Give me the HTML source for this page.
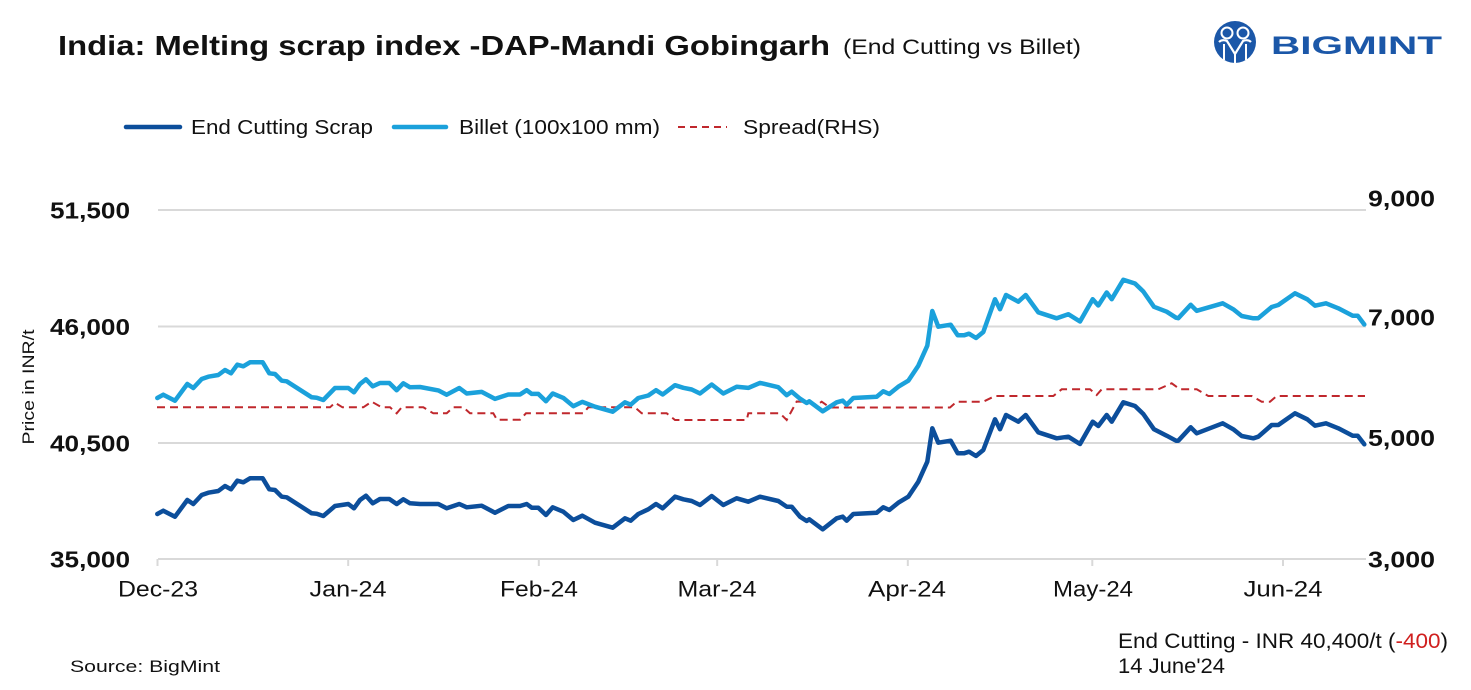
<!DOCTYPE html>
<html>
<head>
<meta charset="utf-8">
<style>
  html, body { margin: 0; padding: 0; background: #ffffff; }
  body { width: 1471px; height: 690px; overflow: hidden; }
  svg { display: block; }
  text { font-family: "Liberation Sans", Arial, sans-serif; fill: #111; }
</style>
</head>
<body>
<svg width="1471" height="690" viewBox="0 0 1471 690" xmlns="http://www.w3.org/2000/svg">
  <rect x="0" y="0" width="1471" height="690" fill="#ffffff"/>

  <!-- Title -->
  <text x="58" y="55" font-size="28" font-weight="bold" textLength="772" lengthAdjust="spacingAndGlyphs">India: Melting scrap index -DAP-Mandi Gobingarh</text>
  <text x="843" y="54" font-size="21" textLength="238" lengthAdjust="spacingAndGlyphs">(End Cutting vs Billet)</text>

  <!-- Logo -->
  <g>
    <circle cx="1235" cy="42" r="21" fill="#1b57a8"/>
    <circle cx="1227" cy="33" r="5.5" fill="#1b57a8" stroke="#ffffff" stroke-width="2"/>
    <circle cx="1243" cy="33" r="5.5" fill="#1b57a8" stroke="#ffffff" stroke-width="2"/>
    <path d="M1219,42 Q1222,39 1227,41 L1235,54 L1243,41 Q1248,39 1251,42" fill="none" stroke="#ffffff" stroke-width="2.2"/>
    <path d="M1224,44 L1224,60 M1246,44 L1246,60 M1235,54 L1235,64" fill="none" stroke="#ffffff" stroke-width="2"/>
    <text x="1271" y="54" font-size="25" font-weight="bold" fill="#1b57a8" style="fill:#1b57a8" textLength="171" lengthAdjust="spacingAndGlyphs">BIGMINT</text>
  </g>

  <!-- Legend -->
  <line x1="126" y1="127" x2="180" y2="127" stroke="#0c4e9b" stroke-width="4.5" stroke-linecap="round"/>
  <text x="191" y="134" font-size="20.5" textLength="182" lengthAdjust="spacingAndGlyphs">End Cutting Scrap</text>
  <line x1="394" y1="127" x2="446" y2="127" stroke="#1ba1db" stroke-width="4.5" stroke-linecap="round"/>
  <text x="459" y="134" font-size="20.5" textLength="201" lengthAdjust="spacingAndGlyphs">Billet (100x100 mm)</text>
  <line x1="678" y1="127" x2="727" y2="127" stroke="#c0282d" stroke-width="2" stroke-dasharray="7,5"/>
  <text x="743" y="134" font-size="20.5" textLength="137" lengthAdjust="spacingAndGlyphs">Spread(RHS)</text>

  <!-- Gridlines -->
  <g stroke="#d9d9d9" stroke-width="2">
    <line x1="158" y1="210" x2="1366" y2="210"/>
    <line x1="158" y1="326.5" x2="1366" y2="326.5"/>
    <line x1="158" y1="443" x2="1366" y2="443"/>
    <line x1="158" y1="559" x2="1366" y2="559"/>
  </g>
  <!-- X ticks -->
  <g stroke="#d9d9d9" stroke-width="2">
    <line x1="157.5" y1="559" x2="157.5" y2="566"/>
    <line x1="348.2" y1="559" x2="348.2" y2="566"/>
    <line x1="538.8" y1="559" x2="538.8" y2="566"/>
    <line x1="717.2" y1="559" x2="717.2" y2="566"/>
    <line x1="907.8" y1="559" x2="907.8" y2="566"/>
    <line x1="1092.3" y1="559" x2="1092.3" y2="566"/>
    <line x1="1283" y1="559" x2="1283" y2="566"/>
  </g>

  <!-- Left axis labels -->
  <g font-size="23" font-weight="bold" text-anchor="end">
    <text x="130" y="218.5" text-anchor="end" textLength="80" lengthAdjust="spacingAndGlyphs">51,500</text>
    <text x="130" y="335" text-anchor="end" textLength="80" lengthAdjust="spacingAndGlyphs">46,000</text>
    <text x="130" y="451.5" text-anchor="end" textLength="80" lengthAdjust="spacingAndGlyphs">40,500</text>
    <text x="130" y="567.5" text-anchor="end" textLength="80" lengthAdjust="spacingAndGlyphs">35,000</text>
  </g>

  <!-- Right axis labels -->
  <g font-size="23" font-weight="bold">
    <text x="1368" y="206.5" textLength="67" lengthAdjust="spacingAndGlyphs">9,000</text>
    <text x="1368" y="325.5" textLength="67" lengthAdjust="spacingAndGlyphs">7,000</text>
    <text x="1368" y="446" textLength="67" lengthAdjust="spacingAndGlyphs">5,000</text>
    <text x="1368" y="567.5" textLength="67" lengthAdjust="spacingAndGlyphs">3,000</text>
  </g>

  <!-- Y axis title -->
  <text transform="translate(34,387) rotate(-90)" x="0" y="0" font-size="17" text-anchor="middle" textLength="115" lengthAdjust="spacingAndGlyphs">Price in INR/t</text>

  <!-- X axis labels -->
  <g font-size="22" text-anchor="middle">
    <text x="158" y="596.5" text-anchor="middle" textLength="80" lengthAdjust="spacingAndGlyphs">Dec-23</text>
    <text x="348" y="596.5" text-anchor="middle" textLength="77" lengthAdjust="spacingAndGlyphs">Jan-24</text>
    <text x="539" y="596.5" text-anchor="middle" textLength="78" lengthAdjust="spacingAndGlyphs">Feb-24</text>
    <text x="717" y="596.5" text-anchor="middle" textLength="79" lengthAdjust="spacingAndGlyphs">Mar-24</text>
    <text x="907" y="596.5" text-anchor="middle" textLength="78" lengthAdjust="spacingAndGlyphs">Apr-24</text>
    <text x="1093" y="596.5" text-anchor="middle" textLength="80" lengthAdjust="spacingAndGlyphs">May-24</text>
    <text x="1283" y="596.5" text-anchor="middle" textLength="79" lengthAdjust="spacingAndGlyphs">Jun-24</text>
  </g>

  <!-- Spread (RHS) dashed -->
  <polyline fill="none" stroke="#c0282d" stroke-width="2" stroke-dasharray="8,5"
    points="157,407.3 330,407.3 335,402.7 342.5,407.3 363.3,407.3 371.7,401.7 381.7,407.3 390,407.3 396.7,413.3 401.7,407.3 423.3,407.3 433.3,413.3 446.7,413.3 453.3,407.3 463.3,407.3 470,413.3 493.3,413.3 497,419.7 520,419.7 526,413.3 583.3,413.3 588.3,407.3 635,407.3 641.7,413.3 666.7,413.3 675,420 746.7,420 748.3,413.3 780,413.3 786.7,420 796.7,401.5 810,402 816.7,405 821.7,401.7 830,407.5 950,407.5 956.7,401.7 983.3,401.7 995,396 1053.3,396 1061.7,389.3 1090,389.3 1096.7,395 1101.7,389.3 1158.3,389.3 1171.7,383.3 1180,389.3 1196.7,389.3 1208.3,396 1251.7,396 1261.7,401.7 1270,401.7 1276.7,396 1365,396"/>

  <!-- Billet -->
  <polyline fill="none" stroke="#1ba1db" stroke-width="4.5" stroke-linejoin="round" stroke-linecap="round"
    points="157.3,398 163.3,394.7 175,400.7 187.3,384 193.3,388 201.7,379 208.3,376.7 218.3,375 225,370 231,373.3 237.3,364.7 243.3,366.3 250,362.3 262.7,362.3 269.3,373.3 275,374 281.7,380.7 286.7,381.3 311.7,397.3 316.7,397.7 323.3,400 335,388 348.3,388 354,392.3 360,384 366,379.3 372.7,386.3 380,383 389.3,383 396.7,390.2 403.3,383.3 410,387.3 420,387 438.3,390.4 446.7,394.7 459.3,388 466.7,393.5 481.7,391.9 495,398.9 508.3,394.5 520,394.5 526.7,390.2 531.7,393.9 538.3,393.9 546,401.2 552.7,393.5 563.3,397.9 573.3,406.2 582.3,401.9 595,406.7 612.7,411.7 625,402.3 630.7,404.7 638.3,398 648.3,395.5 656,390.2 662.7,394.5 675,385.2 683.3,387.8 691.7,389.5 700,393.5 711.7,384.5 723.3,393.5 736.7,386.8 748.3,387.9 760,382.9 778.3,387.2 786.7,395.2 791.7,391.7 800,398.7 806.7,403 809.3,401.3 822.7,411.3 836.7,402.3 842.7,400.7 846.7,404.7 853.3,398 876.7,396.7 883.3,391.3 889.3,394 898.3,386.7 908.3,380.7 918.3,365.7 927.3,345.7 932.3,311 938.3,326.7 950.7,324.7 957.7,335.3 964,335.3 969,333.7 976,338 983.3,332 995,299.3 1000,309.3 1006,295 1018.3,301.7 1025.7,295 1038.3,312.3 1056.7,318.3 1068.3,314.2 1080,321.5 1092.7,299.2 1098.3,305.5 1106.7,292.5 1111.7,299.2 1123.3,279.8 1135,283.5 1143.3,291.5 1154,306.8 1166.7,311.7 1176,317.7 1178.3,318.2 1190.7,304.8 1196.7,310.8 1222.7,303.3 1233.3,309.3 1241.7,316 1253.3,318.3 1258.3,318.2 1271.7,307 1278.3,305 1295,293.3 1307.3,299.3 1315,305.7 1326,303.3 1338.3,308.3 1352.7,315.7 1357.7,315.7 1364.3,324.5"/>

  <!-- End Cutting Scrap -->
  <polyline fill="none" stroke="#0c4e9b" stroke-width="4.5" stroke-linejoin="round" stroke-linecap="round"
    points="157.3,514 163.3,510.7 175,516.7 187.3,500 193.3,504 201.7,495 208.3,492.7 218.3,491 225,486 231,489.3 237.3,480.7 243.3,482.3 250,478.3 262.7,478.3 269.3,489.3 275,490 281.7,496.7 286.7,497.3 311.7,513.3 316.7,513.7 323.3,516 335,506 348.3,504 354,508.3 360,500 366,495.7 372.7,503.3 380,499 389.3,499 396.7,504 403.3,499.3 410,503.3 420,504 438.3,504 446.7,508.3 459.3,504 466.7,507.3 481.7,505.7 495,512.7 508.3,506 520,506 526.7,504 531.7,507.7 538.3,507.7 546,515 552.7,507.3 563.3,511.7 573.3,520 582.3,515.7 595,522.7 612.7,527.7 625,518.3 630.7,520.7 638.3,514 648.3,509.3 656,504 662.7,508.3 675,496.7 683.3,499.3 691.7,501 700,505 711.7,496 723.3,505 736.7,498.3 748.3,501.7 760,496.7 778.3,501 786.7,506.7 791.7,506.7 800,516.7 806.7,521 809.3,519.3 822.7,529.3 836.7,518.3 842.7,516.7 846.7,520.7 853.3,514 876.7,512.7 883.3,507.3 889.3,510 898.3,502.7 908.3,496.7 918.3,481.7 927.3,461.7 932.3,428.3 938.3,442.7 950.7,440.7 957.7,453.3 964,453.3 969,451.7 976,456 983.3,450 995,419.3 1000,429.3 1006,415 1018.3,421.7 1025.7,415 1038.3,432.3 1056.7,438.3 1068.3,436.7 1080,444 1092.7,421.7 1098.3,426 1106.7,415 1111.7,421.7 1123.3,402.3 1135,406 1143.3,414 1154,429.3 1166.7,435.7 1176,440.7 1178.3,440.7 1190.7,427.3 1196.7,433.3 1222.7,423.3 1233.3,429.3 1241.7,436 1253.3,438.3 1258.3,436.7 1271.7,425 1278.3,425 1295,413.3 1307.3,419.3 1315,425.7 1326,423.3 1338.3,428.3 1352.7,435.7 1357.7,435.7 1364.3,444.3"/>

  <!-- Footer -->
  <text x="70" y="672" font-size="17" textLength="150" lengthAdjust="spacingAndGlyphs">Source: BigMint</text>
  <text x="1118" y="648" font-size="21.5" textLength="330" lengthAdjust="spacingAndGlyphs">End Cutting - INR 40,400/t (<tspan fill="#d0201f" style="fill:#d0201f">-400</tspan>)</text>
  <text x="1118" y="673" font-size="21.5" textLength="107" lengthAdjust="spacingAndGlyphs">14 June'24</text>
</svg>
</body>
</html>
